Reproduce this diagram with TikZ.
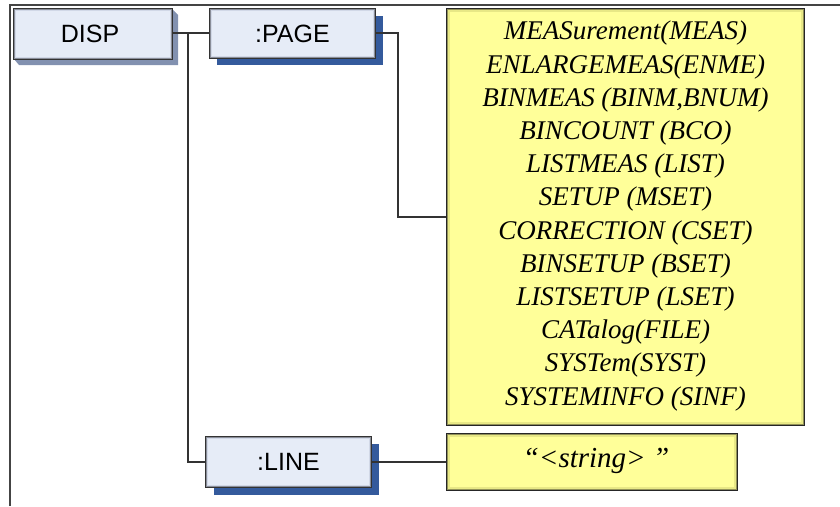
\documentclass[tikz,border=0pt]{standalone}
\usepackage{fontspec}
\setmainfont{Liberation Serif}[ItalicFont={Liberation Serif Italic}]
\setsansfont{Liberation Sans}
\newfontfamily\listfont{Liberation Serif Italic}
\usetikzlibrary{calc}
\definecolor{boxfill}{HTML}{E6ECF7}
\definecolor{boxedge}{HTML}{C4CCDD}
\definecolor{boxshadow}{HTML}{345A9C}
\definecolor{bevel}{HTML}{8291B0}
\definecolor{yel}{HTML}{FFFF99}
\definecolor{yeledge}{HTML}{D9D97A}
\definecolor{linec}{HTML}{333333}
\definecolor{framec}{HTML}{444444}
\tikzset{
  cmdbox/.style={draw=linec, line width=1.2pt, fill=boxfill, inner sep=0pt,
    font=\sffamily\fontsize{25}{28}\selectfont},
  yelbox/.style={draw=black!85, line width=1.4pt, fill=yel, inner sep=0pt},
  yeltext/.style={font=\listfont\fontsize{27}{33.2}\selectfont, align=center, inner sep=0pt},
  conn/.style={draw=linec, line width=1.6pt},
}
\begin{document}
\begin{tikzpicture}[x=1pt,y=-1pt]
\useasboundingbox (0,0) rectangle (840,506);
% frame
\draw[framec, line width=2pt] (10,506) -- (10,5) -- (840,5);
% DISP bevel
\fill[bevel] (172,9) -- (178,15) -- (178,65) -- (19,65) -- (14,59) -- (172,59) -- cycle;
\node[cmdbox, minimum width=158pt, minimum height=50pt] (disp) at (93,34) {\kern-6pt DISP};
\draw[boxedge, line width=2pt, opacity=0.6] ([shift={(2,2)}]disp.north west) rectangle ([shift={(-2,-2)}]disp.south east);
% PAGE
\fill[boxshadow] (217,16) rectangle (383,65);
\node[cmdbox, minimum width=165pt, minimum height=49pt] (page) at (292.5,33.5) {:PAGE};
\draw[boxedge, line width=2pt, opacity=0.6] ([shift={(2,2)}]page.north west) rectangle ([shift={(-2,-2)}]page.south east);
% LINE
\fill[boxshadow] (214,444) rectangle (379,495);
\node[cmdbox, minimum width=165pt, minimum height=50pt] (line) at (288.5,462) {:LINE};
\draw[boxedge, line width=2pt, opacity=0.6] ([shift={(2,2)}]line.north west) rectangle ([shift={(-2,-2)}]line.south east);
% yellow list
\node[yelbox, minimum width=357pt, minimum height=416pt] (list) at (625.5,217) {};
\draw[yeledge, line width=3pt, opacity=0.6] ([shift={(2.5,2.5)}]list.north west) rectangle ([shift={(-2.5,-2.5)}]list.south east);
\node[yeltext] (listtext) at (625.5,216) {%
MEASurement(MEAS)\\
ENLARGEMEAS(ENME)\\
BINMEAS (BINM,BNUM)\\
BINCOUNT (BCO)\\
LISTMEAS (LIST)\\
SETUP (MSET)\\
CORRECTION (CSET)\\
BINSETUP (BSET)\\
LISTSETUP (LSET)\\
CATalog(FILE)\\
SYSTem(SYST)\\
SYSTEMINFO (SINF)};
% string box
\node[yelbox, minimum width=290pt, minimum height=56pt] (str) at (592,462) {};
\draw[yeledge, line width=3pt, opacity=0.6] ([shift={(2.5,2.5)}]str.north west) rectangle ([shift={(-2.5,-2.5)}]str.south east);
\node[yeltext, font=\listfont\fontsize{29}{32}\selectfont] (strtext) at (596,461) {“<string> ”};
% connectors
\coordinate (j1) at (188,33);
\coordinate (j2) at (398,33);
\draw[conn] (disp.east |- j1) -- (page.west |- j1);
\draw[conn] (j1) |- (line.west);
\draw[conn] (page.east |- j2) -- (j2) |- (list.west);
\draw[conn] (line.east) -- (str.west);
\end{tikzpicture}
\end{document}
